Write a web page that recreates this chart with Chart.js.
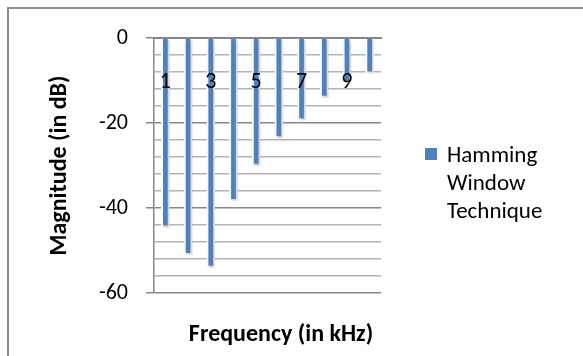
<!DOCTYPE html>
<html>
<head>
<meta charset="utf-8">
<title>Hamming window response</title>
<script src="https://cdn.jsdelivr.net/npm/chart.js@4/dist/chart.umd.min.js"></script>
<style>
  html, body { margin: 0; padding: 0; background: #fff; }
  #wrap { width: 583px; height: 356px; }
</style>
</head>
<body>
<div id="wrap"><canvas id="magChart" width="583" height="356"></canvas></div>
<script>
// frequency bins (kHz) and magnitude of each bin (dB)
const freqLabels = ['1', '2', '3', '4', '5', '6', '7', '8', '9', '10'];
const hammingDb = [-44.5, -51, -54, -38.3, -30, -23.5, -19.3, -14, -10.5, -8.3];
const yMajorTicks = [0, -20, -40, -60];

const FONT = 'Carlito, Lato, "Liberation Sans", sans-serif';
Chart.defaults.font.family = FONT;
Chart.defaults.color = '#000';

const axisGray = '#868686';
const gridGray = '#b4b4b4';

// outer frame of the chart object
const frame = {
  id: 'frame',
  beforeDraw(chart) {
    const c = chart.ctx;
    c.save();
    c.strokeStyle = '#8c8c8c';
    c.lineWidth = 2;
    c.beginPath();
    c.moveTo(8, chart.height);
    c.lineTo(8, 8);
    c.lineTo(chart.width, 8);
    c.stroke();
    c.restore();
  }
};

// soft drop shadow under the bars
const barShadow = {
  id: 'barShadow',
  beforeDatasetsDraw(chart) {
    const c = chart.ctx;
    c.save();
    c.shadowColor = 'rgba(0,0,0,0.28)';
    c.shadowBlur = 3;
    c.shadowOffsetX = 1;
    c.shadowOffsetY = 1.5;
  },
  afterDatasetsDraw(chart) {
    chart.ctx.restore();
  }
};

// legend with the series name wrapped one word per line
const sideLegend = {
  id: 'sideLegend',
  afterDraw(chart) {
    const c = chart.ctx;
    const ds = chart.data.datasets[0];
    const x = chart.chartArea.right + 44;
    const y = 148;
    c.save();
    c.fillStyle = ds.backgroundColor;
    c.fillRect(x, y, 12, 12);
    c.fillStyle = '#000';
    c.font = '23px ' + FONT;
    c.textBaseline = 'alphabetic';
    ds.label.split(' ').forEach((word, i) => {
      c.fillText(word, x + 22, y + 14 + i * 28);
    });
    c.restore();
  }
};

new Chart(document.getElementById('magChart'), {
  type: 'bar',
  data: {
    labels: freqLabels,
    datasets: [{
      label: 'Hamming Window Technique',
      data: hammingDb,
      backgroundColor: '#4F81BD',
      borderColor: '#ffffff',
      borderWidth: 2,
      barThickness: 8
    }]
  },
  options: {
    responsive: false,
    animation: false,
    layout: { padding: { left: 0, right: 21, top: 38, bottom: 0 } },
    plugins: {
      legend: { display: false },
      tooltip: { enabled: false },
      title: {
        display: true,
        position: 'bottom',
        text: 'Frequency (in kHz)',
        color: '#000',
        font: { size: 24, weight: 'bold' },
        padding: { top: 27.6, bottom: 6.6 }
      }
    },
    scales: {
      x: {
        position: { y: 0 },
        grid: { display: false },
        border: { color: axisGray, width: 2, z: 1 },
        ticks: {
          z: 1,
          autoSkip: false,
          maxRotation: 0,
          padding: 23,
          font: { size: 22 },
          callback: (v, i) => (i % 2 === 0 ? freqLabels[i] : '')
        }
      },
      y: {
        min: -60,
        max: 0,
        ticks: {
          stepSize: 4,
          autoSkip: false,
          padding: 18,
          font: { size: 22 },
          callback: v => (yMajorTicks.includes(Math.round(v)) ? String(Math.round(v)) : '')
        },
        grid: {
          lineWidth: 1.5,
          tickLength: 8,
          color: ctx => (yMajorTicks.includes(Math.round(ctx.tick.value)) ? axisGray : gridGray),
          tickColor: ctx => (yMajorTicks.includes(Math.round(ctx.tick.value)) ? axisGray : 'transparent')
        },
        border: { color: axisGray, width: 1.5 },
        title: {
          display: true,
          text: 'Magnitude (in dB)',
          font: { size: 24, weight: 'bold' },
          padding: { top: 45.6, bottom: 0 }
        },
        afterFit: s => { s.width = 154; }
      },
      pad: {
        type: 'linear',
        position: 'right',
        ticks: { display: false },
        grid: { display: false },
        border: { display: false },
        afterFit: s => { s.width = 181; }
      }
    }
  },
  plugins: [frame, barShadow, sideLegend]
});
</script>
</body>
</html>
